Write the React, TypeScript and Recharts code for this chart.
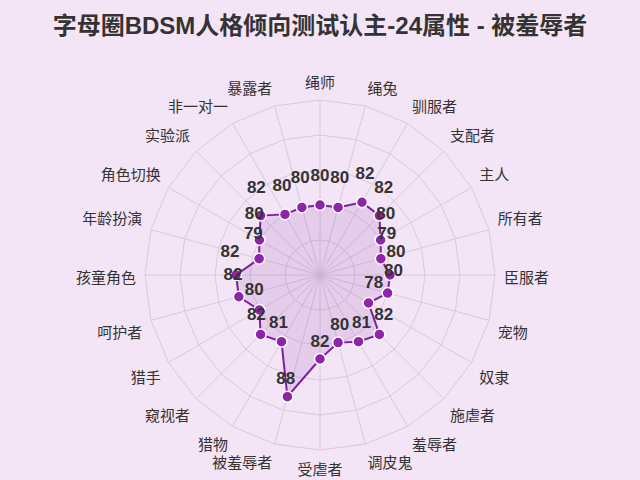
import { RadarChart, Radar, PolarGrid, PolarAngleAxis, PolarRadiusAxis, LabelList } from "recharts";

const categories = [
  "绳师", "绳兔", "驯服者", "支配者", "主人", "所有者",
  "臣服者", "宠物", "奴隶", "施虐者", "羞辱者", "调皮鬼",
  "受虐者", "被羞辱者", "猎物", "窥视者", "猎手", "呵护者",
  "孩童角色", "年龄扮演", "角色切换", "实验派", "非一对一", "暴露者",
];

const scores = [
  80, 80, 82, 82, 80, 79,
  80, 80, 78, 82, 81, 80,
  82, 88, 81, 82, 80, 82,
  82, 79, 80, 82, 80, 80,
];

const radiusDomain = [70, 95];

const data = categories.map((name, i) => ({ name, score: scores[i] }));

const CX = 320;
const CY = 275;
const FONT = "'Liberation Sans', 'Noto Sans CJK SC', sans-serif";

const renderTick = (props: any) => {
  const label = props.payload?.value;
  const i = categories.indexOf(label);
  const t = (i * 15 * Math.PI) / 180;
  const s = Math.sin(t);
  const c = Math.cos(t);
  const r = 184;
  const x = CX + r * s;
  const y = CY - r * c + (c > 0.01 ? -9 : c < -0.01 ? 10 : 2);
  const anchor = Math.abs(s) < 0.01 ? "middle" : s > 0 ? "start" : "end";
  return (
    <text x={x} y={y} textAnchor={anchor} dominantBaseline="central" fontSize={15} fill="#333" fontFamily={FONT}>
      {label}
    </text>
  );
};

const renderValue = (props: any) => {
  const { x, y, value } = props;
  const dx = x - CX;
  const dy = y - CY;
  const len = Math.hypot(dx, dy) || 1;
  return (
    <text
      x={x + (6 * dx) / len}
      y={y - 24 + (6 * dy) / len}
      textAnchor="middle"
      dominantBaseline="central"
      fontSize={17}
      fontWeight="bold"
      fill="#333"
      fontFamily={FONT}
    >
      {value}
    </text>
  );
};

export default function App() {
  return (
    <div style={{ position: "fixed", left: 0, top: 0, width: 640, height: 480, background: "#f3e5f5" }}>
      <div
        style={{
          position: "absolute",
          top: 6,
          left: 0,
          width: 640,
          textAlign: "center",
          fontSize: 24,
          fontWeight: "bold",
          color: "#333",
          fontFamily: FONT,
        }}
      >
        字母圈BDSM人格倾向测试认主-24属性 - 被羞辱者
      </div>
      <RadarChart
        width={640}
        height={480}
        data={data}
        cx={CX}
        cy={CY}
        outerRadius={175}
        margin={{ top: 0, right: 0, bottom: 0, left: 0 }}
      >
        <PolarGrid gridType="polygon" stroke="#d6cadb" />
        <PolarAngleAxis dataKey="name" tick={renderTick} tickLine={false} axisLine={false} />
        <PolarRadiusAxis domain={radiusDomain} tickCount={6} tick={false} axisLine={false} />
        <Radar
          dataKey="score"
          stroke="#7b1fa2"
          strokeWidth={2}
          fill="#8e24aa"
          fillOpacity={0.13}
          dot={{ r: 5.5, fill: "#8e24aa", stroke: "#fff", strokeWidth: 1.5, fillOpacity: 1 }}
          isAnimationActive={false}
        >
          <LabelList dataKey="score" content={renderValue} />
        </Radar>
      </RadarChart>
    </div>
  );
}
